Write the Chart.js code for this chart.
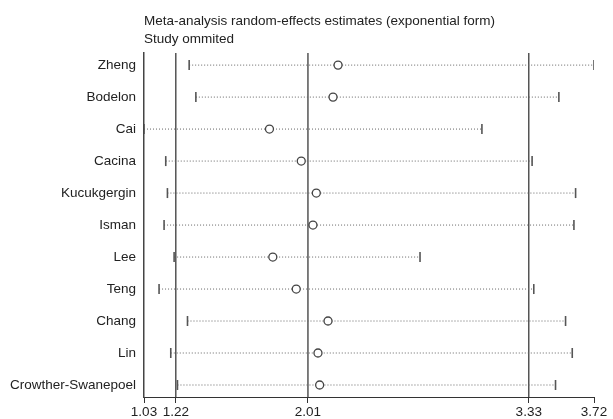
<!DOCTYPE html>
<html>
<head>
<meta charset="utf-8">
<script src="https://cdn.jsdelivr.net/npm/chart.js@4/dist/chart.umd.min.js"></script>
<style>
    html, body { margin: 0; padding: 0; background: #fff; }
    #chart { display: block; }
</style>
</head>
<body>
<canvas id="chart" width="613" height="419"></canvas>
<script>
// ============ DATA ============
const studies   = ['Zheng', 'Bodelon', 'Cai', 'Cacina', 'Kucukgergin', 'Isman', 'Lee', 'Teng', 'Chang', 'Lin', 'Crowther-Swanepoel'];
const estimates = [2.19, 2.16, 1.78, 1.97, 2.06, 2.04, 1.80, 1.94, 2.13, 2.07, 2.08];
const lowerCI   = [1.30, 1.34, 1.03, 1.16, 1.17, 1.15, 1.21, 1.12, 1.29, 1.19, 1.23];
const upperCI   = [3.72, 3.51, 3.05, 3.35, 3.61, 3.60, 2.68, 3.36, 3.55, 3.59, 3.49];
const xTicks    = [1.03, 1.22, 2.01, 3.33, 3.72];
const refLines  = [1.22, 2.01, 3.33];
const titleLines = ['Meta-analysis random-effects estimates (exponential form)', 'Study ommited'];

// ============ BUILD DATASETS ============
const yMin = 0.625;
const yMax = studies.length + 0.375;
const rows = studies.map((s, i) => i + 1);

const datasets = [];

// point estimates (first = drawn on top)
datasets.push({
    type: 'scatter',
    data: rows.map((y, i) => ({ x: estimates[i], y: y })),
    pointStyle: 'circle',
    pointRadius: 4,
    pointBorderWidth: 1.3,
    pointBorderColor: '#444',
    pointBackgroundColor: '#fff'
});

// CI end caps
[lowerCI, upperCI].forEach(arr => {
    datasets.push({
        type: 'scatter',
        data: rows.map((y, i) => ({ x: arr[i], y: y })),
        pointStyle: 'line',
        rotation: 90,
        pointRadius: 5,
        pointBorderWidth: 1.6,
        pointBorderColor: '#555'
    });
});

// dotted CI lines
rows.forEach((y, i) => {
    datasets.push({
        type: 'line',
        data: [{ x: lowerCI[i], y: y }, { x: upperCI[i], y: y }],
        borderColor: '#666',
        borderWidth: 1,
        borderDash: [1, 2],
        pointRadius: 0
    });
});

// reference lines (CI bounds and overall estimate)
refLines.forEach(v => {
    datasets.push({
        type: 'line',
        data: [{ x: v, y: yMin }, { x: v, y: yMax }],
        borderColor: '#555',
        borderWidth: 1.5,
        pointRadius: 0
    });
});

// ============ CHART ============
const ctx = document.getElementById('chart').getContext('2d');
new Chart(ctx, {
    type: 'scatter',
    data: { datasets: datasets },
    options: {
        responsive: false,
        animation: false,
        layout: { padding: { left: 0, right: 19, top: 0, bottom: 0 } },
        plugins: {
            legend: { display: false },
            tooltip: { enabled: false },
            title: {
                display: true,
                text: titleLines,
                align: 'start',
                fullSize: false,
                color: '#222',
                font: { family: 'Liberation Sans, Arial, sans-serif', size: 13.5, weight: 'normal', lineHeight: 1.3 },
                padding: { top: 13, bottom: 5 }
            }
        },
        scales: {
            x: {
                type: 'linear',
                min: 1.03,
                max: 3.72,
                afterBuildTicks: scale => { scale.ticks = xTicks.map(v => ({ value: v })); },
                afterFit: scale => { scale.height = 22; },
                border: { display: true, color: '#333', width: 1 },
                grid: { display: true, drawOnChartArea: false, drawTicks: true, tickLength: 6, tickColor: '#333' },
                ticks: {
                    autoSkip: false,
                    maxRotation: 0,
                    padding: 1,
                    color: '#222',
                    font: { family: 'Liberation Sans, Arial, sans-serif', size: 13.5 },
                    callback: v => v.toFixed(2)
                }
            },
            y: {
                type: 'linear',
                reverse: true,
                min: yMin,
                max: yMax,
                afterBuildTicks: scale => { scale.ticks = rows.map(v => ({ value: v })); },
                afterFit: scale => { scale.width = 144; },
                border: { display: true, color: '#444', width: 1.5 },
                grid: { display: false, drawTicks: false },
                ticks: {
                    padding: 8,
                    color: '#222',
                    font: { family: 'Liberation Sans, Arial, sans-serif', size: 13.5 },
                    callback: v => studies[v - 1]
                }
            }
        }
    }
});
</script>
</body>
</html>
